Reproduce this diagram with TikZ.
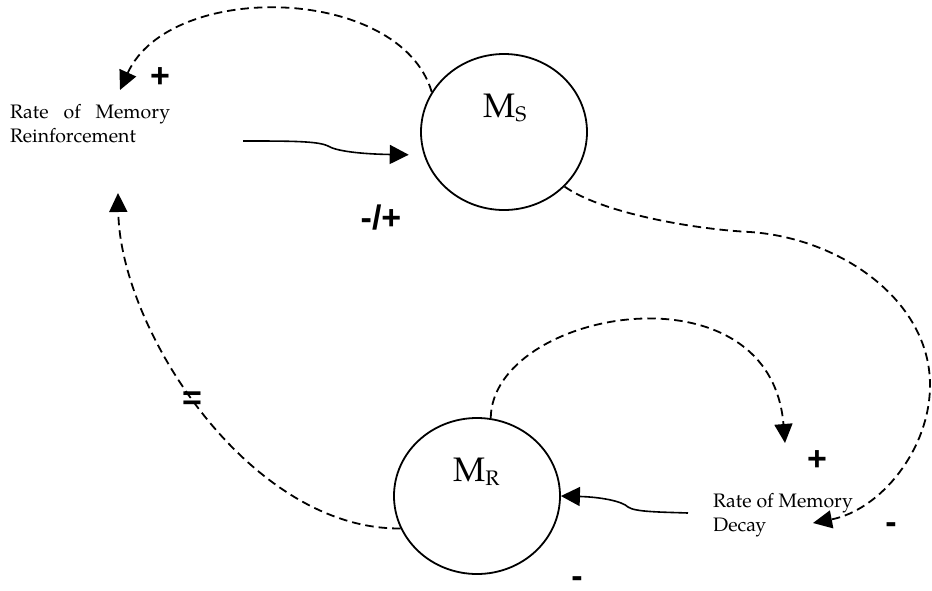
\documentclass[tikz,border=0pt]{standalone}
\usepackage{fontspec}
\newfontfamily\signfont{Liberation Sans}
\newfontfamily\palfont{TeX Gyre Pagella}
\usetikzlibrary{arrows.meta,shapes.geometric}
\begin{document}
\begin{tikzpicture}[x=1pt,y=-1pt,
  stock/.style={draw, ellipse, line width=1.8pt, minimum width=166pt, minimum height=156pt, inner sep=0pt},
  link/.style={line width=1.8pt, dash pattern=on 8.5pt off 5pt, -{Triangle[length=19pt,width=18pt]}},
  flow/.style={line width=1.6pt, -{Triangle[length=19pt,width=19pt]}},
  rate/.style={anchor=base west, inner sep=0pt, font=\palfont\fontsize{19.5}{24}\selectfont},
  sign/.style={anchor=base, inner sep=0pt, font=\signfont\bfseries\fontsize{34}{34}\selectfont},
  stocklabel/.style={anchor=base west, inner sep=0pt, font=\palfont}
]
\fill[white] (0,0) rectangle (932,590);
\useasboundingbox (0,0) rectangle (932,590);

% stocks
\node[stock] (ms) at (504,132) {};
\node[stock] (mr) at (477,496) {};
\node[stocklabel] (msl) at (483,117) {\fontsize{34}{34}\selectfont M\fontsize{21}{21}\selectfont\raisebox{-4pt}{S}};
\node[stocklabel] (mrl) at (453,481) {\fontsize{34}{34}\selectfont M\fontsize{21}{21}\selectfont\raisebox{-4pt}{R}};

% rates
\node[rate] (rmr) at (10,118) {\parbox[t]{160pt}{\makebox[160pt][s]{Rate of Memory}\\Reinforcement}};
\node[rate] (rmd) at (713,507) {\parbox[t]{170pt}{Rate of Memory\\Decay}};

% signs
\node[sign] (p1) at (160,87) {+};
\node[sign] (p2) at (381,229.5) {-/+};
\node[sign] (p3) at (192,409) {=};
\node[sign] (p4) at (817,470) {+};
\node[sign] (p5) at (891,533) {-};
\node[sign] (p6) at (577,587) {-};

% connector ends
\coordinate (rmrin) at (120,90);
\coordinate (rmrin2) at (118,193);
\coordinate (rmrout) at (243,141);
\coordinate (rmdin) at (785,443);
\coordinate (rmdin2) at (813,523);
\coordinate (rmdout) at (688,513);

% connectors
\draw[link] (ms.151.6) .. controls (400,-15) and (170,-20) .. (rmrin);
\draw[flow, shorten >=15pt] (rmrout) .. controls (290,141) and (318,141) .. (328,146)
   .. controls (336,151) and (360,154) .. (ms.196);
\draw[link] (ms.318.5) .. controls (600,212) and (690,229) .. (750,232)
   .. controls (840,238) and (930,300) .. (930,385)
   .. controls (930,450) and (880,510) .. (rmdin2);
\draw[link] (mr.80) .. controls (492,310) and (770,260) .. (rmdin);
\draw[flow] (rmdout) .. controls (660,512) and (635,512) .. (628,507)
   .. controls (622,501) and (600,497) .. (mr.east);
\draw[link] (mr.203) .. controls (250,530) and (120,330) .. (rmrin2);
\end{tikzpicture}
\end{document}
